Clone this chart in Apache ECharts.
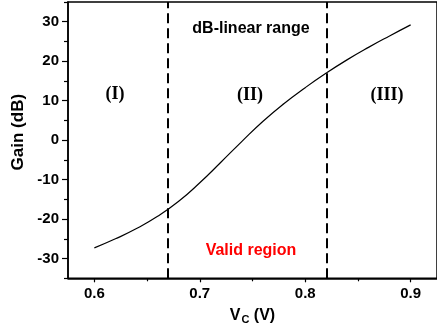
<!DOCTYPE html>
<html>
<head>
<meta charset="utf-8">
<script src="https://cdn.jsdelivr.net/npm/echarts@6/dist/echarts.min.js"></script>
<style>
html,body{margin:0;padding:0;background:#fff;}
#chart{width:437px;height:335px;}
</style>
</head>
<body>
<div id="chart"></div>
<script>
// Control voltage Vc (V)
var vc = [0.60, 0.62, 0.64, 0.66, 0.68, 0.70, 0.72, 0.74, 0.76, 0.78, 0.80, 0.82, 0.84, 0.86, 0.88, 0.90];
// Gain (dB)
var gain = [-27.3, -25.0, -22.4, -19.3, -15.5, -10.8, -5.6, -0.3, 4.8, 9.3, 13.3, 17.0, 20.4, 23.5, 26.4, 29.2];
// Region boundaries (V)
var boundaries = [0.673, 0.822];
// Tick labels
var xTicks = [0.6, 0.7, 0.8, 0.9];
var xMinor = [0.65, 0.75, 0.85];
var yTicks = [-30, -20, -10, 0, 10, 20, 30];
var yMinor = [-35, -25, -15, -5, 5, 15, 25, 35];
var regionLabels = ['(I)', '(II)', '(III)'];
var titleText = 'dB-linear range';
var validText = 'Valid region';

var chart = echarts.init(document.getElementById('chart'), null, {renderer: 'canvas'});
var SANS = 'Liberation Sans, Arial, sans-serif';
var lblFont = {fontFamily: SANS, fontWeight: 'bold', fontSize: 15, color: '#000'};

var data = vc.map(function (v, i) { return [v, gain[i]]; });

var option = {
  animation: false,
  backgroundColor: '#fff',
  grid: {left: 68, top: 2, width: 371, height: 276.3, show: true, borderColor: '#000', borderWidth: 1.5, backgroundColor: 'transparent'},
  xAxis: [{
    type: 'value', min: 0.575, max: 0.925,
    name: '{v|V}{s|C}{v| (V)}', nameLocation: 'middle', nameGap: 27,
    nameTextStyle: {rich: {
      v: {fontFamily: SANS, fontWeight: 'bold', fontSize: 16, color: '#000'},
      s: {fontFamily: SANS, fontWeight: 'bold', fontSize: 11, color: '#000', verticalAlign: 'bottom', padding: [9, 0, 0, 1]}
    }},
    axisLine: {show: true, onZero: false, lineStyle: {color: '#000', width: 1.5}},
    axisTick: {show: true, length: 4, lineStyle: {color: '#000', width: 1.2}, customValues: xTicks},
    axisLabel: Object.assign({margin: 8, customValues: xTicks, formatter: function (v) { return v.toFixed(1); }}, lblFont),
    splitLine: {show: false}
  }, {
    type: 'value', min: 0.575, max: 0.925, position: 'bottom',
    axisLine: {show: false, onZero: false},
    axisTick: {show: true, length: 3, lineStyle: {color: '#000', width: 1.2}, customValues: xMinor},
    axisLabel: {show: false},
    splitLine: {show: false}
  }],
  yAxis: [{
    type: 'value', min: -35, max: 35,
    name: 'Gain (dB)', nameLocation: 'middle', nameGap: 40, nameRotate: 90,
    nameTextStyle: {fontFamily: SANS, fontWeight: 'bold', fontSize: 17, color: '#000', padding: [0, 0, 0, 16]},
    axisLine: {show: true, onZero: false, lineStyle: {color: '#000', width: 1.5}},
    axisTick: {show: true, length: 6, lineStyle: {color: '#000', width: 1.2}, customValues: yTicks},
    axisLabel: Object.assign({margin: 9, customValues: yTicks}, lblFont),
    splitLine: {show: false}
  }, {
    type: 'value', min: -35, max: 35, position: 'left',
    axisLine: {show: false, onZero: false},
    axisTick: {show: true, length: 4, lineStyle: {color: '#000', width: 1.2}, customValues: yMinor},
    axisLabel: {show: false},
    splitLine: {show: false}
  }],
  series: [{
    type: 'line',
    data: data,
    smooth: 0.5,
    showSymbol: false,
    lineStyle: {color: '#000', width: 1.2},
    markLine: {
      silent: true, symbol: 'none',
      label: {show: false},
      lineStyle: {color: '#000', type: [10, 5], width: 2},
      data: boundaries.map(function (b) { return {xAxis: b}; })
    }
  }],
  graphic: [
    {type: 'text', style: {text: titleText, x: 251, y: 29, textAlign: 'center', textVerticalAlign: 'middle', font: 'bold 16px "Liberation Sans", Arial, sans-serif', fill: '#000'}},
    {type: 'text', style: {text: regionLabels[0], x: 115, y: 94, textAlign: 'center', textVerticalAlign: 'middle', font: 'bold 18px "Liberation Serif", "Times New Roman", serif', fill: '#000'}},
    {type: 'text', style: {text: regionLabels[1], x: 250, y: 95, textAlign: 'center', textVerticalAlign: 'middle', font: 'bold 18px "Liberation Serif", "Times New Roman", serif', fill: '#000'}},
    {type: 'text', style: {text: regionLabels[2], x: 387, y: 95, textAlign: 'center', textVerticalAlign: 'middle', font: 'bold 18px "Liberation Serif", "Times New Roman", serif', fill: '#000'}},
    {type: 'text', style: {text: validText, x: 251, y: 251, textAlign: 'center', textVerticalAlign: 'middle', font: 'bold 16px "Liberation Sans", Arial, sans-serif', fill: '#ff0000'}}
  ]
};
chart.setOption(option);
</script>
</body>
</html>
